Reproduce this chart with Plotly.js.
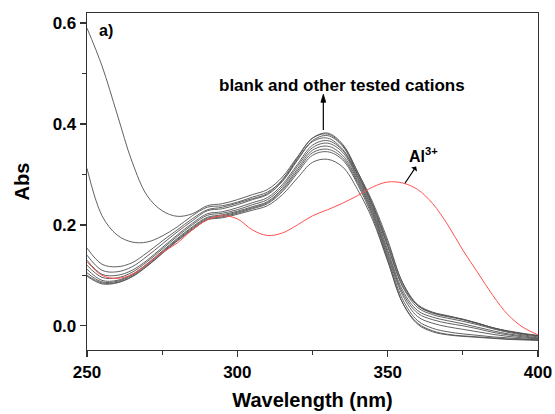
<!DOCTYPE html>
<html>
<head>
<meta charset="utf-8">
<script src="https://cdn.plot.ly/plotly-3.0.1.min.js"></script>
<style>html,body{margin:0;padding:0;background:#fff;}#chart{width:555px;height:414px;}</style>
</head>
<body>
<div id="chart"></div>
<script>
// Wavelength grid (nm)
const wavelength = [250,255,260,265,270,275,280,285,290,295,300,305,310,315,320,325,330,335,340,345,350,355,360,365,370,375,380,385,390,395,400];

// Blank and other tested cations (black curves)
const cationA = [0.59,0.515,0.42,0.325,0.258,0.228,0.217,0.222,0.238,0.242,0.25,0.26,0.27,0.295,0.335,0.372,0.38,0.358,0.305,0.245,0.17,0.085,0.042,0.027,0.02,0.013,0.005,-0.004,-0.011,-0.016,-0.02];
const cationB = [0.312,0.218,0.18,0.166,0.166,0.178,0.196,0.218,0.235,0.238,0.245,0.255,0.265,0.288,0.33,0.365,0.372,0.35,0.3,0.24,0.165,0.085,0.04,0.025,0.018,0.012,0.004,-0.004,-0.01,-0.015,-0.019];
const cationC = [0.154,0.122,0.117,0.125,0.145,0.168,0.19,0.212,0.23,0.235,0.243,0.252,0.262,0.29,0.333,0.372,0.382,0.36,0.305,0.24,0.16,0.08,0.04,0.026,0.019,0.013,0.005,-0.004,-0.011,-0.016,-0.02];
const cationD = [0.14,0.11,0.107,0.117,0.138,0.162,0.186,0.208,0.228,0.232,0.24,0.25,0.26,0.286,0.328,0.367,0.377,0.356,0.3,0.236,0.157,0.077,0.036,0.022,0.015,0.009,0.002,-0.006,-0.013,-0.018,-0.022];
const cationE = [0.13,0.102,0.1,0.11,0.13,0.155,0.18,0.203,0.222,0.226,0.234,0.244,0.254,0.28,0.32,0.358,0.367,0.348,0.295,0.232,0.15,0.07,0.03,0.017,0.01,0.004,-0.003,-0.01,-0.016,-0.02,-0.024];
const cationF = [0.12,0.096,0.095,0.106,0.127,0.152,0.177,0.2,0.219,0.223,0.23,0.24,0.25,0.276,0.316,0.353,0.362,0.344,0.292,0.228,0.145,0.065,0.025,0.012,0.005,0.0,-0.006,-0.013,-0.018,-0.022,-0.025];
const cationG = [0.112,0.09,0.09,0.102,0.123,0.148,0.173,0.196,0.215,0.22,0.227,0.236,0.246,0.272,0.311,0.348,0.356,0.338,0.288,0.224,0.14,0.06,0.018,0.005,-0.002,-0.007,-0.012,-0.017,-0.021,-0.024,-0.026];
const cationH = [0.105,0.087,0.088,0.1,0.121,0.146,0.171,0.194,0.213,0.218,0.225,0.234,0.244,0.269,0.307,0.343,0.35,0.333,0.284,0.22,0.135,0.052,0.01,-0.005,-0.012,-0.016,-0.019,-0.022,-0.024,-0.026,-0.028];
const cationI = [0.10,0.085,0.086,0.098,0.119,0.144,0.169,0.192,0.211,0.216,0.223,0.232,0.242,0.266,0.303,0.338,0.345,0.329,0.28,0.215,0.13,0.045,0.003,-0.012,-0.018,-0.021,-0.023,-0.025,-0.027,-0.028,-0.029];
const cationJ = [0.098,0.083,0.085,0.097,0.118,0.143,0.168,0.19,0.21,0.214,0.221,0.229,0.238,0.26,0.293,0.324,0.33,0.315,0.27,0.21,0.128,0.045,0.005,-0.01,-0.017,-0.02,-0.022,-0.024,-0.026,-0.027,-0.028];

// Al3+ (red curve)
const aluminium = [0.127,0.1,0.094,0.102,0.122,0.145,0.164,0.19,0.21,0.218,0.212,0.19,0.179,0.184,0.2,0.218,0.23,0.243,0.258,0.275,0.285,0.283,0.27,0.242,0.2,0.15,0.105,0.06,0.022,-0.003,-0.018];

const blackSeries = [cationA,cationB,cationC,cationD,cationE,cationF,cationG,cationH,cationI,cationJ];

const traces = blackSeries.map(function(s){
  return {x: wavelength, y: s, type:'scatter', mode:'lines',
          line:{color:'#505050', width:0.9, shape:'spline', smoothing:1},
          hoverinfo:'skip', showlegend:false};
});
traces.push({x: wavelength, y: aluminium, type:'scatter', mode:'lines',
             line:{color:'#ff5050', width:1, shape:'spline', smoothing:1},
             hoverinfo:'skip', showlegend:false});

const FONT = 'Arial, "Liberation Sans", sans-serif';

const layout = {
  width:555, height:414,
  margin:{l:87, r:17, t:13, b:64},
  paper_bgcolor:'#fff', plot_bgcolor:'#fff',
  showlegend:false,
  font:{family:FONT, color:'#000'},
  xaxis:{
    range:[250,400], dtick:50, tick0:250,
    ticks:'outside', ticklen:6, tickwidth:1.3, tickcolor:'#333',
    showline:true, linecolor:'#333', linewidth:1.3, mirror:true,
    showgrid:false, zeroline:false,
    minor:{dtick:25, ticks:'outside', ticklen:4, tickwidth:1.2, tickcolor:'#333', showgrid:false},
    tickfont:{family:FONT, size:17, weight:'bold', color:'#000'},
    title:{text:'Wavelength (nm)', font:{family:FONT, size:20, weight:'bold', color:'#000'}, standoff:12}
  },
  yaxis:{
    range:[-0.048,0.62], dtick:0.2, tick0:0, tickformat:'.1f',
    ticks:'outside', ticklen:6, tickwidth:1.3, tickcolor:'#333',
    showline:true, linecolor:'#333', linewidth:1.3, mirror:true,
    showgrid:false, zeroline:false,
    minor:{dtick:0.1, ticks:'outside', ticklen:4, tickwidth:1.2, tickcolor:'#333', showgrid:false},
    tickfont:{family:FONT, size:17, weight:'bold', color:'#000'},
    title:{text:'Abs', font:{family:FONT, size:20, weight:'bold', color:'#000'}, standoff:17}
  },
  shapes:[
    {type:'line', xref:'x', yref:'y', x0:328.6, x1:328.6, y0:0.388, y1:0.445, line:{color:'#000', width:1.2}},
    {type:'path', xref:'x', yref:'y', path:'M 327.8 0.443 L 329.4 0.443 L 328.6 0.459 Z', fillcolor:'#000', line:{color:'#000', width:0.8}}
  ],
  annotations:[
    {x:253.4, y:0.586, xref:'x', yref:'y', text:'a)', showarrow:false, xanchor:'left', yanchor:'middle',
     font:{family:FONT, size:16, weight:'bold', color:'#000'}},
    {x:334.9, y:0.477, xref:'x', yref:'y', text:'blank and other tested cations', showarrow:false, xanchor:'center', yanchor:'middle',
     font:{family:FONT, size:17, weight:'bold', color:'#000'}},
    {x:355.75, y:0.2825, xref:'x', yref:'y', ax:362.0, ay:0.3385, axref:'x', ayref:'y', text:'Al<sup>3+</sup>', showarrow:true,
     arrowside:'start', arrowhead:2, arrowsize:1, arrowwidth:1.2, arrowcolor:'#000', standoff:0, startstandoff:0,
     font:{family:FONT, size:16, weight:'bold', color:'#000'}}
  ]
};

Plotly.newPlot('chart', traces, layout, {displayModeBar:false, staticPlot:true});
</script>
</body>
</html>
